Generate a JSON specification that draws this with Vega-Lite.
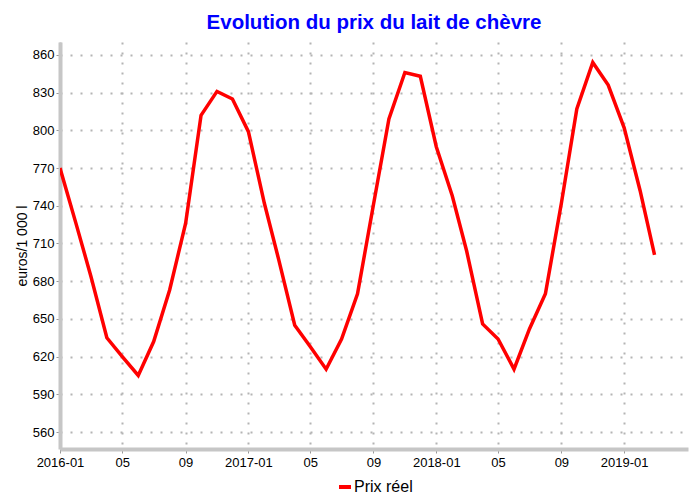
{
  "$schema": "https://vega.github.io/schema/vega-lite/v6.json",
  "autosize": {"type": "none"},
  "padding": {"left": 60, "top": 42, "right": 7, "bottom": 48},
  "width": 628,
  "height": 407,
  "background": "white",
  "title": {
    "text": "Evolution du prix du lait de chèvre",
    "color": "#0000ff",
    "font": "Liberation Sans",
    "fontSize": 20.5,
    "fontWeight": "bold",
    "anchor": "middle",
    "offset": 9
  },
  "config": {
    "view": {"stroke": null},
    "font": "Liberation Sans"
  },
  "data": {
    "values": [
      {"date": "2016-01", "prix": 770, "serie": "Prix réel"},
      {"date": "2016-02", "prix": 726, "serie": "Prix réel"},
      {"date": "2016-03", "prix": 684, "serie": "Prix réel"},
      {"date": "2016-04", "prix": 635, "serie": "Prix réel"},
      {"date": "2016-05", "prix": 620, "serie": "Prix réel"},
      {"date": "2016-06", "prix": 605, "serie": "Prix réel"},
      {"date": "2016-07", "prix": 632, "serie": "Prix réel"},
      {"date": "2016-08", "prix": 673, "serie": "Prix réel"},
      {"date": "2016-09", "prix": 726, "serie": "Prix réel"},
      {"date": "2016-10", "prix": 812, "serie": "Prix réel"},
      {"date": "2016-11", "prix": 831, "serie": "Prix réel"},
      {"date": "2016-12", "prix": 825, "serie": "Prix réel"},
      {"date": "2017-01", "prix": 799, "serie": "Prix réel"},
      {"date": "2017-02", "prix": 742, "serie": "Prix réel"},
      {"date": "2017-03", "prix": 697, "serie": "Prix réel"},
      {"date": "2017-04", "prix": 645, "serie": "Prix réel"},
      {"date": "2017-05", "prix": 628, "serie": "Prix réel"},
      {"date": "2017-06", "prix": 610, "serie": "Prix réel"},
      {"date": "2017-07", "prix": 634, "serie": "Prix réel"},
      {"date": "2017-08", "prix": 670, "serie": "Prix réel"},
      {"date": "2017-09", "prix": 741, "serie": "Prix réel"},
      {"date": "2017-10", "prix": 809, "serie": "Prix réel"},
      {"date": "2017-11", "prix": 846, "serie": "Prix réel"},
      {"date": "2017-12", "prix": 843, "serie": "Prix réel"},
      {"date": "2018-01", "prix": 787, "serie": "Prix réel"},
      {"date": "2018-02", "prix": 748, "serie": "Prix réel"},
      {"date": "2018-03", "prix": 704, "serie": "Prix réel"},
      {"date": "2018-04", "prix": 646, "serie": "Prix réel"},
      {"date": "2018-05", "prix": 634, "serie": "Prix réel"},
      {"date": "2018-06", "prix": 610, "serie": "Prix réel"},
      {"date": "2018-07", "prix": 642, "serie": "Prix réel"},
      {"date": "2018-08", "prix": 670, "serie": "Prix réel"},
      {"date": "2018-09", "prix": 742, "serie": "Prix réel"},
      {"date": "2018-10", "prix": 817, "serie": "Prix réel"},
      {"date": "2018-11", "prix": 854, "serie": "Prix réel"},
      {"date": "2018-12", "prix": 836, "serie": "Prix réel"},
      {"date": "2019-01", "prix": 802, "serie": "Prix réel"},
      {"date": "2019-02", "prix": 752, "serie": "Prix réel"},
      {"date": "2019-03", "prix": 701, "serie": "Prix réel"}
    ],
    "format": {"parse": {"date": "date:'%Y-%m'"}}
  },
  "mark": {"type": "line", "strokeWidth": 3.5, "clip": true},
  "encoding": {
    "x": {
      "field": "date",
      "type": "temporal",
      "scale": {
        "domain": [
          {"year": 2016, "month": 1, "date": 1},
          {"year": 2019, "month": 5, "date": 5}
        ]
      },
      "axis": {
        "title": null,
        "values": [
          {"year": 2016, "month": 1, "date": 1},
          {"year": 2016, "month": 5, "date": 1},
          {"year": 2016, "month": 9, "date": 1},
          {"year": 2017, "month": 1, "date": 1},
          {"year": 2017, "month": 5, "date": 1},
          {"year": 2017, "month": 9, "date": 1},
          {"year": 2018, "month": 1, "date": 1},
          {"year": 2018, "month": 5, "date": 1},
          {"year": 2018, "month": 9, "date": 1},
          {"year": 2019, "month": 1, "date": 1}
        ],
        "labelExpr": "month(datum.value) == 0 ? timeFormat(datum.value, '%Y-%m') : timeFormat(datum.value, '%m')",
        "labelFontSize": 13,
        "labelColor": "#000000",
        "labelPadding": 3,
        "labelFlush": false,
        "domainColor": "#c6c6c6",
        "domainWidth": 4,
        "tickColor": "#999999",
        "tickSize": 4,
        "tickWidth": 1,
        "grid": true,
        "gridColor": "#b4b4b4",
        "gridWidth": 2,
        "gridDash": [2, 8]
      }
    },
    "y": {
      "field": "prix",
      "type": "quantitative",
      "scale": {"domain": [546.5, 870.3], "nice": false, "zero": false},
      "axis": {
        "title": "euros/1 000 l",
        "titleFontSize": 14,
        "titleFontWeight": "normal",
        "titleColor": "#000000",
        "titlePadding": 3,
        "values": [560, 590, 620, 650, 680, 710, 740, 770, 800, 830, 860],
        "labelFontSize": 13,
        "labelColor": "#000000",
        "labelPadding": 2,
        "domainColor": "#c6c6c6",
        "domainWidth": 4,
        "tickColor": "#999999",
        "tickSize": 4,
        "tickWidth": 1,
        "grid": true,
        "gridColor": "#b4b4b4",
        "gridWidth": 2,
        "gridDash": [2, 8]
      }
    },
    "color": {
      "field": "serie",
      "type": "nominal",
      "scale": {"range": ["#ff0000"]},
      "legend": {
        "title": null,
        "orient": "none",
        "legendX": 277,
        "legendY": 437,
        "symbolType": "stroke",
        "symbolStrokeWidth": 4,
        "symbolSize": 144,
        "labelFontSize": 16,
        "labelColor": "#000000",
        "labelOffset": 1
      }
    }
  }
}
